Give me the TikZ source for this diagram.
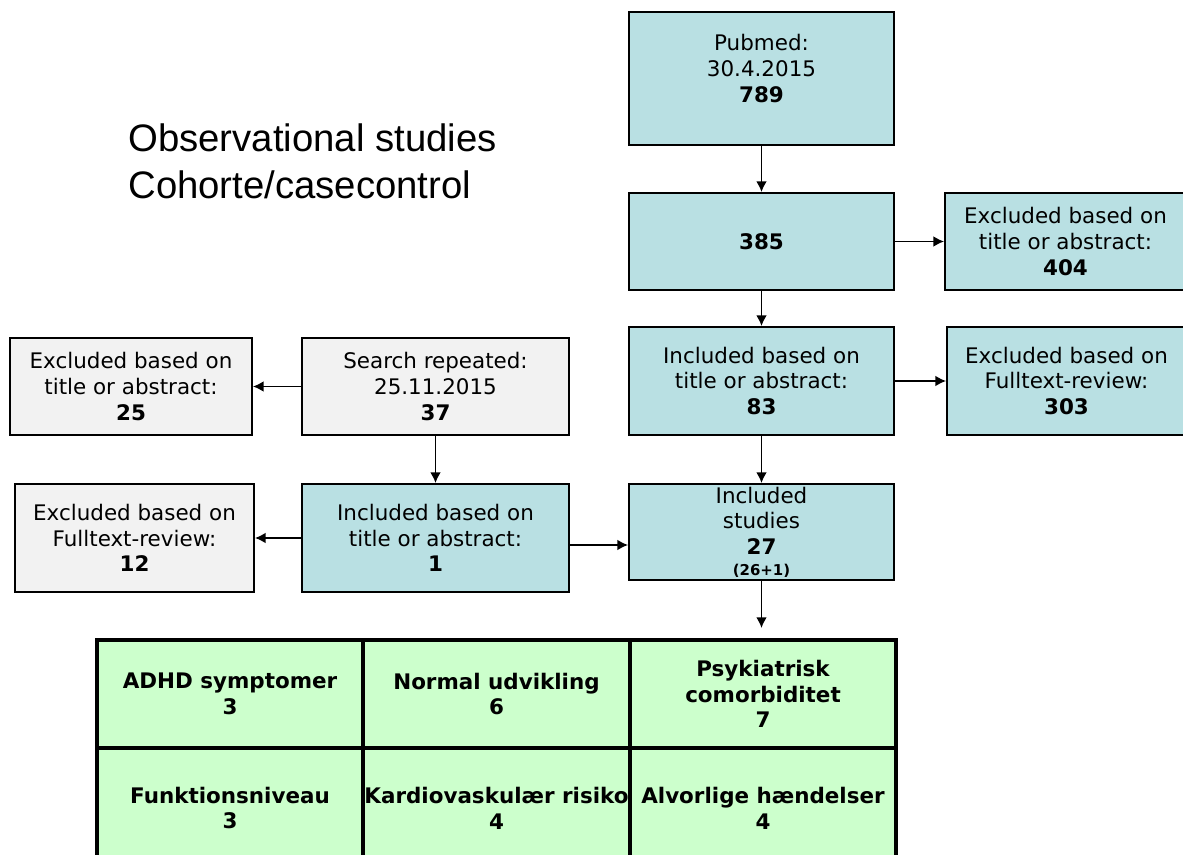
\documentclass[tikz,border=0pt]{standalone}
\usepackage{fontspec}
\setmainfont{DejaVu Sans}
\newfontfamily\titlefont{Liberation Sans}
\usetikzlibrary{arrows.meta}
\definecolor{tealfill}{RGB}{185,224,227}
\definecolor{greyfill}{RGB}{242,242,242}
\definecolor{greenfill}{RGB}{204,255,204}

\begin{document}
\begin{tikzpicture}[>={Latex[length=6pt,width=6pt]},
  box/.style={draw, line width=1.1pt, align=center, inner sep=1pt,
    font=\fontsize{12.2}{14.7}\selectfont},
  tealbox/.style={box, fill=tealfill},
  greybox/.style={box, fill=greyfill},
  cell/.style={draw, line width=2.3pt, fill=greenfill, align=center,
    minimum width=5.33cm, inner sep=0pt,
    font=\fontsize{12.2}{14.7}\selectfont\bfseries},
  arr/.style={->, line width=0.9pt}]

% Cadre
  \useasboundingbox (0,0) rectangle (23.66,17.08);

% Titre
  \node[anchor=west, align=left, inner sep=0pt,
    font=\titlefont\fontsize{21.8}{26.7}\selectfont] (titre) at (2.56,13.85)
    {Observational studies\\Cohorte/casecontrol};

% Colonne principale
  \node[tealbox, minimum width=5.3cm, minimum height=2.66cm] (pubmed) at (15.23,15.51)
    {Pubmed:\\30.4.2015\\\textbf{789}\\[-3pt]\mbox{}};
  \node[tealbox, minimum width=5.3cm, minimum height=1.94cm] (n385) at (15.23,12.25)
    {\textbf{385}};
  \node[tealbox, minimum width=5.3cm, minimum height=2.16cm] (incl83) at (15.23,9.46)
    {Included based on\\title or abstract:\\\textbf{83}};
  \node[tealbox, minimum width=5.3cm, minimum height=1.92cm] (studies) at (15.23,6.44)
    {Included\\studies\\\textbf{27}\\[-3pt]{\fontsize{8.5}{10}\selectfont\bfseries(26+1)}};

% Exclus a droite
  \node[tealbox, minimum width=4.82cm, minimum height=1.94cm] (excl404) at (21.31,12.25)
    {Excluded based on\\title or abstract:\\\textbf{404}};
  \node[tealbox, minimum width=4.78cm, minimum height=2.16cm] (excl303) at (21.33,9.46)
    {Excluded based on\\Fulltext-review:\\\textbf{303}};

% Recherche repetee
  \node[greybox, minimum width=5.34cm, minimum height=1.94cm] (search) at (8.71,9.35)
    {Search repeated:\\25.11.2015\\\textbf{37}};
  \node[tealbox, minimum width=5.34cm, minimum height=2.16cm] (incl1) at (8.71,6.32)
    {Included based on\\title or abstract:\\\textbf{1}};
  \node[greybox, minimum width=4.84cm, minimum height=1.94cm] (excl25) at (2.62,9.35)
    {Excluded based on\\title or abstract:\\\textbf{25}};
  \node[greybox, minimum width=4.78cm, minimum height=2.16cm] (excl12) at (2.69,6.32)
    {Excluded based on\\Fulltext-review:\\\textbf{12}};

% Fleches
  \draw[arr] (pubmed) -- (n385);
  \draw[arr] (n385) -- (excl404);
  \draw[arr] (n385) -- (incl83);
  \draw[arr] (incl83) -- (excl303);
  \draw[arr] (incl83) -- (studies);
  \draw[arr] (search) -- (excl25);
  \draw[arr] (search) -- (incl1);
  \draw[arr] (incl1) -- (excl12);
  \draw[arr] ([yshift=-0.14cm]incl1.east) -- ([yshift=-0.14cm]incl1.east -| studies.west);
  \coordinate (tabin) at (15.23,4.52);
  \draw[arr] (studies) -- (tabin);

% Tableau des resultats
  \foreach \r/\c/\txt in {1/1/{ADHD symptomer\\3}, 1/2/{Normal udvikling\\6},
      1/3/{Psykiatrisk\\comorbiditet\\7}}
  \node[cell, minimum height=2.16cm] (cell-\r-\c) at ({4.6+(\c-1)*5.33},3.2) {\txt};
  \foreach \r/\c/\txt in {2/1/{Funktionsniveau\\3},
      2/2/{Kardiovaskulær risiko\\4}, 2/3/{Alvorlige hændelser\\4}}
  \node[cell, minimum height=2.4cm] (cell-\r-\c) at ({4.6+(\c-1)*5.33},0.92) {\txt};

\end{tikzpicture}
\end{document}
